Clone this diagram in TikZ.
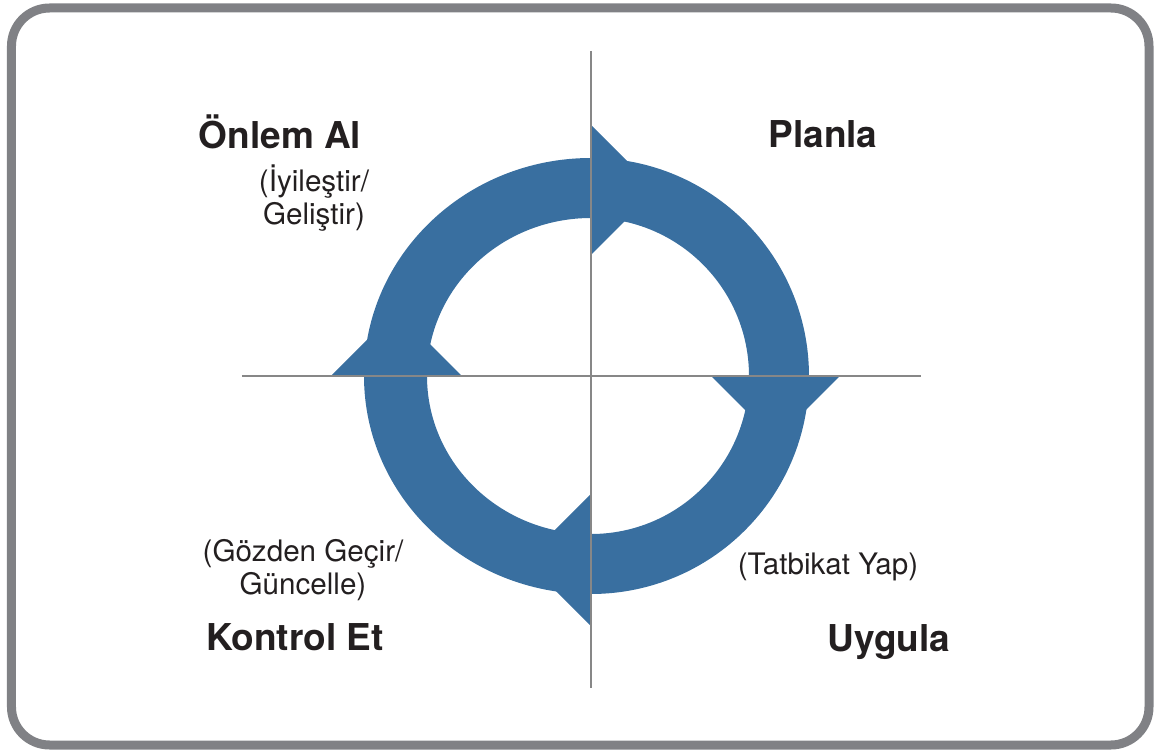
\documentclass[tikz,border=0pt]{standalone}
\usepackage{fontspec}
\setmainfont{TeX Gyre Heros}
\usetikzlibrary{positioning}
\definecolor{cycleblue}{RGB}{57,111,160}
\definecolor{framegray}{RGB}{128,129,133}
\definecolor{axisgray}{RGB}{135,135,135}
\definecolor{inkblack}{RGB}{35,31,32}
\tikzset{
  phase/.style={font=\fontsize{27.75}{33}\selectfont\bfseries, text=inkblack, inner sep=0pt, anchor=base},
  hint/.style={font=\fontsize{22.2}{24.6}\selectfont, text=inkblack, align=center, inner sep=0pt}
}
\begin{document}
\begin{tikzpicture}[x=0.75pt, y=0.75pt]
      \useasboundingbox (-591,-377) rectangle (563,376);
      \draw[framegray, line width=6.75pt, rounded corners=28.5pt] (-579.5,368) rectangle (558,-369);
      \fill[cycleblue, even odd rule]
            (0,218) arc[start angle=90, end angle=0, radius=218]
            arc[start angle=0, end angle=-90, radius=218]
            arc[start angle=270, end angle=180, x radius=227, y radius=218]
            arc[start angle=180, end angle=90, x radius=227, y radius=218] -- cycle
            (0,158) arc[start angle=90, end angle=0, radius=158]
            arc[start angle=0, end angle=-90, radius=158]
            arc[start angle=270, end angle=180, x radius=164, y radius=158]
            arc[start angle=180, end angle=90, x radius=164, y radius=158] -- cycle;
      \fill[cycleblue] (0,251) -- (65,186) -- (0,121) -- cycle
            (120,0) -- (184.5,-64.5) -- (249,0) -- cycle
            (0,-118) -- (-66,-184) -- (0,-250) -- cycle
            (-129,0) -- (-194.5,65.5) -- (-260,0) -- cycle;
      \draw[axisgray, line width=1.1pt] (0,325) -- (0,-312)
            (-349,0) -- (330,0);
      \draw (232,228) node (planla) [phase] {Planla}
            (-311,227) node (onlem) [phase] {Önlem Al}
            (-296,-274) node (kontrol) [phase] {Kontrol Et}
            (298,-276) node (uygula) [phase] {Uygula};
      \draw (-277,178) node (iyiles) [hint] {(İyileştir/\\Geliştir)}
            (-288,-194) node (gozden) [hint] {(Gözden Geçir/\\Güncelle)}
            (237,-199) node (tatbikat) [hint, anchor=base] {(Tatbikat Yap)};
\end{tikzpicture}
\end{document}
